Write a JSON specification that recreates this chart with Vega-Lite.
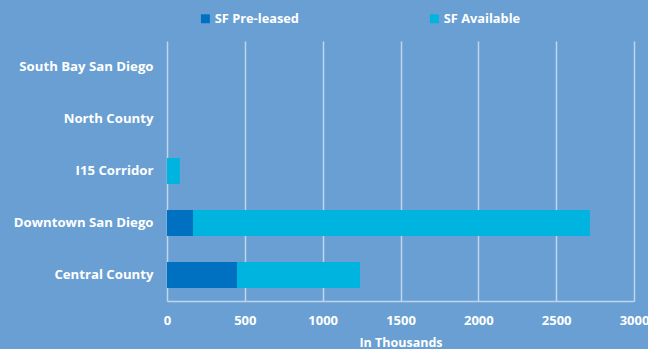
{
  "$schema": "https://vega.github.io/schema/vega-lite/v6.json",
  "autosize": "none",
  "width": 467,
  "height": 260,
  "padding": {"left": 167, "top": 41, "right": 14, "bottom": 48},
  "background": "#699FD3",
  "config": {
    "view": {"stroke": null},
    "font": "Open Sans",
    "axis": {"labelColor": "#FFFFFF", "titleColor": "#FFFFFF", "labelFont": "Open Sans", "titleFont": "Open Sans", "labelFontWeight": "bold", "titleFontWeight": "bold", "labelFontSize": 13, "titleFontSize": 12.5},
    "legend": {"labelColor": "#FFFFFF", "labelFont": "Open Sans", "labelFontWeight": "bold", "labelFontSize": 12.8}
  },
  "data": {
    "values": [
      {"region": "South Bay San Diego", "series": "SF Pre-leased", "value": 0},
      {"region": "South Bay San Diego", "series": "SF Available", "value": 0},
      {"region": "North County", "series": "SF Pre-leased", "value": 0},
      {"region": "North County", "series": "SF Available", "value": 0},
      {"region": "I15 Corridor", "series": "SF Pre-leased", "value": 0},
      {"region": "I15 Corridor", "series": "SF Available", "value": 83},
      {"region": "Downtown San Diego", "series": "SF Pre-leased", "value": 167},
      {"region": "Downtown San Diego", "series": "SF Available", "value": 2550},
      {"region": "Central County", "series": "SF Pre-leased", "value": 450},
      {"region": "Central County", "series": "SF Available", "value": 790}
    ]
  },
  "transform": [
    {"calculate": "datum.series === 'SF Pre-leased' ? 0 : 1", "as": "ord"}
  ],
  "mark": {"type": "bar"},
  "encoding": {
    "y": {
      "field": "region", "type": "nominal",
      "sort": ["South Bay San Diego", "North County", "I15 Corridor", "Downtown San Diego", "Central County"],
      "scale": {"paddingInner": 0.5, "paddingOuter": 0.25},
      "axis": {"title": null, "domain": false, "ticks": false, "labelPadding": 14, "grid": false, "labelFontSize": 13.2}
    },
    "x": {
      "field": "value", "type": "quantitative", "stack": "zero",
      "scale": {"domain": [0, 3000], "nice": false},
      "axis": {"title": "In Thousands", "format": "d", "values": [0, 500, 1000, 1500, 2000, 2500, 3000], "grid": true, "gridColor": "#BFD5EC", "gridWidth": 1.5, "gridOpacity": 1, "domainColor": "#BFD5EC", "domainWidth": 1.5, "ticks": false, "labelPadding": 13, "titlePadding": 9, "labelFlush": false}
    },
    "color": {
      "field": "series", "type": "nominal",
      "scale": {"domain": ["SF Pre-leased", "SF Available"], "range": ["#0070C0", "#00B4E0"]},
      "legend": {"title": null, "orient": "none", "legendX": 32, "legendY": -29, "direction": "horizontal", "symbolType": "square", "symbolSize": 80, "symbolStrokeWidth": 0, "symbolOpacity": 1, "labelOffset": 3, "columnPadding": 129}
    },
    "order": {"field": "ord", "type": "quantitative"}
  }
}
